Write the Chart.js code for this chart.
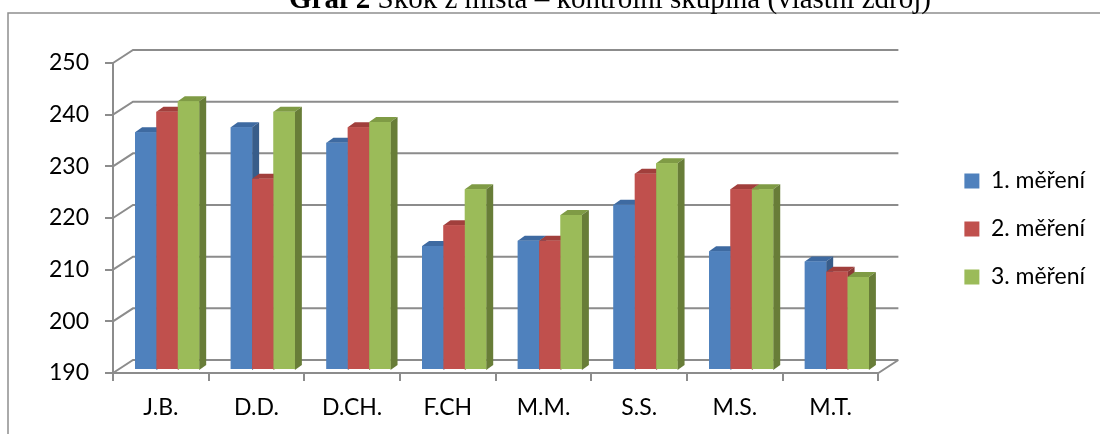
<!DOCTYPE html>
<html>
<head>
<meta charset="utf-8">
<script src="https://cdn.jsdelivr.net/npm/chart.js@4.4.1/dist/chart.umd.min.js"></script>
<style>
  html, body { margin: 0; padding: 0; background: #fff; }
  canvas { display: block; }
</style>
</head>
<body>
<canvas id="chart" width="1100" height="434"></canvas>
<script>
// data
const categories = ['J.B.', 'D.D.', 'D.CH.', 'F.CH', 'M.M.', 'S.S.', 'M.S.', 'M.T.'];
const mereni1 = [236, 237, 234, 214, 215, 222, 213, 211];
const mereni2 = [240, 227, 237, 218, 215, 228, 225, 209];
const mereni3 = [242, 240, 238, 225, 220, 230, 225, 208];
const seriesNames = ['1. měření', '2. měření', '3. měření'];
const yTicks = [190, 200, 210, 220, 230, 240, 250];
const titleBold = 'Graf 2';
const titleRest = ' Skok z místa – kontrolní skupina (vlastní zdroj)';

const frontColors = ['#4F81BD', '#C0504D', '#9BBB59'];
const topColors = ['#3E6AA1', '#A13F3C', '#7F9B45'];
const sideColors = ['#385D8A', '#8C3936', '#687D38'];
const GRID = '#8c8c8c';

// fake 3d offsets (px)
const BAR_SHIFT = { x: 6.3, y: -3 };   // front plane -> bar plane
const BACK = { x: 20, y: -13 };        // front plane -> back wall
const DEPTH = { x: 7, y: -5 };         // bar depth

const font = { family: 'Lato', size: 23 };

const pseudo3d = {
  id: 'pseudo3d',
  beforeDraw(chart) {
    const ctx = chart.ctx;
    ctx.save();
    ctx.strokeStyle = '#8e8e8e';
    ctx.lineWidth = 1.5;
    ctx.strokeRect(8, 13, 1200, 600);

    ctx.fillStyle = '#000';
    ctx.textBaseline = 'alphabetic';
    ctx.font = 'bold 29px "Liberation Serif"';
    const w1 = ctx.measureText(titleBold).width;
    ctx.font = '29px "Liberation Serif"';
    const w2 = ctx.measureText(titleRest).width;
    const x0 = 610 - (w1 + w2) / 2;
    ctx.font = 'bold 29px "Liberation Serif"';
    ctx.fillText(titleBold, x0, 8);
    ctx.font = '29px "Liberation Serif"';
    ctx.fillText(titleRest, x0 + w1, 8);
    ctx.restore();
  },
  beforeDatasetsDraw(chart) {
    const { ctx, chartArea: a, scales: { y } } = chart;
    ctx.save();
    ctx.strokeStyle = GRID;
    ctx.lineWidth = 2;
    ctx.beginPath();
    y.ticks.forEach(t => {
      const py = y.getPixelForValue(t.value);
      ctx.moveTo(a.left, py);
      ctx.lineTo(a.left + BACK.x, py + BACK.y);
      ctx.lineTo(a.right + BACK.x, py + BACK.y);
    });
    const pb = y.getPixelForValue(y.min);
    ctx.moveTo(a.right, pb);
    ctx.lineTo(a.right + BACK.x, pb + BACK.y);
    ctx.stroke();
    ctx.restore();

    ctx.save();
    ctx.translate(BAR_SHIFT.x, BAR_SHIFT.y);
  },
  afterDatasetsDraw(chart) {
    const ctx = chart.ctx;
    const floor = chart.scales.y.getPixelForValue(yTicks[0]);
    const metas = chart.data.datasets.map((d, i) => chart.getDatasetMeta(i));
    categories.forEach((c, i) => {
      metas.forEach((meta, d) => {
        const bar = meta.data[i];
        const { x, y, width } = bar.getProps(['x', 'y', 'width'], true);
        const l = x - width / 2, r = x + width / 2;
        ctx.fillStyle = topColors[d];
        ctx.beginPath();
        ctx.moveTo(l, y);
        ctx.lineTo(l + DEPTH.x, y + DEPTH.y);
        ctx.lineTo(r + DEPTH.x, y + DEPTH.y);
        ctx.lineTo(r, y);
        ctx.closePath();
        ctx.fill();
        ctx.fillStyle = sideColors[d];
        ctx.beginPath();
        ctx.moveTo(r, y);
        ctx.lineTo(r + DEPTH.x, y + DEPTH.y);
        ctx.lineTo(r + DEPTH.x, floor + DEPTH.y);
        ctx.lineTo(r, floor);
        ctx.closePath();
        ctx.fill();
        bar.draw(ctx);
      });
    });
    ctx.restore();
  }
};

Chart.defaults.color = '#000';
Chart.defaults.font.family = 'Lato';

new Chart(document.getElementById('chart'), {
  type: 'bar',
  data: {
    labels: categories,
    datasets: [mereni1, mereni2, mereni3].map((vals, i) => ({
      label: seriesNames[i],
      data: vals,
      base: yTicks[0],
      backgroundColor: frontColors[i],
      borderWidth: 0,
      categoryPercentage: 0.67,
      barPercentage: 1,
      clip: false
    }))
  },
  options: {
    responsive: false,
    devicePixelRatio: 1,
    animation: false,
    layout: { padding: { top: 63, right: 5, bottom: 0, left: 0 } },
    plugins: {
      tooltip: { enabled: false },
      legend: {
        position: 'right',
        fullSize: false,
        title: { display: true, text: ' ', font: { size: 10 }, padding: 5 },
        labels: { font, boxWidth: 15, boxHeight: 15, padding: 25, color: '#000' }
      }
    },
    scales: {
      x: {
        grid: { offset: true, drawOnChartArea: false, tickLength: 8, color: GRID, lineWidth: 2 },
        border: { color: GRID, width: 2 },
        ticks: { font, color: '#000', padding: 13, maxRotation: 0 },
        afterFit: s => { s.height = 61; }
      },
      y: {
        min: 190,
        max: 250,
        afterBuildTicks: s => { s.ticks = yTicks.map(v => ({ value: v })); },
        grid: { drawOnChartArea: false, tickLength: 8, color: GRID, lineWidth: 2 },
        border: { color: GRID, width: 2 },
        ticks: { font, color: '#000', padding: 16 },
        afterFit: s => { s.width = 113; }
      },
      gap: {
        type: 'linear',
        position: 'right',
        grid: { display: false },
        border: { display: false },
        ticks: { display: false },
        afterFit: s => { s.width = 61; }
      }
    }
  },
  plugins: [pseudo3d]
});
</script>
</body>
</html>
